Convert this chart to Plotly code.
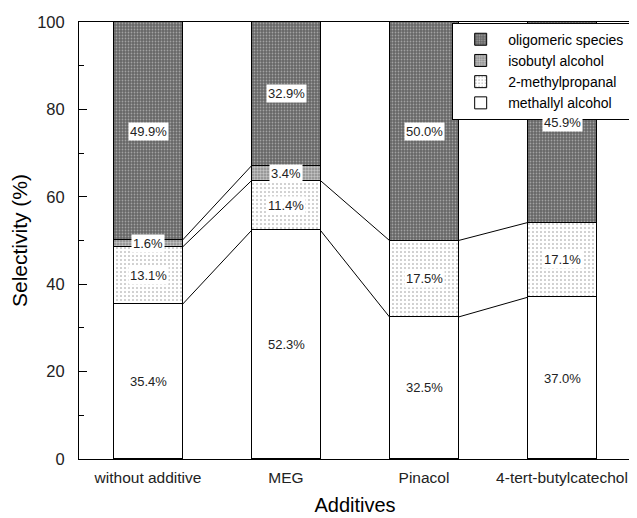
import plotly.graph_objects as go

categories = ["without additive", "MEG", "Pinacol", "4-tert-butylcatechol"]
methallyl = [35.4, 52.3, 32.5, 37.0]
methylpropanal = [13.1, 11.4, 17.5, 17.1]
isobutyl = [1.6, 3.4, 0.0, 0.0]
oligomeric = [49.9, 32.9, 50.0, 45.9]
y_ticks = [0, 20, 40, 60, 80, 100]

series = [
    ("methallyl alcohol", methallyl, dict(shape="", bgcolor="white")),
    ("2-methylpropanal", methylpropanal, dict(shape=".", fgcolor="#222222", bgcolor="white", size=4, solidity=0.12)),
    ("isobutyl alcohol", isobutyl, dict(shape=".", fgcolor="white", bgcolor="#8a8a8a", size=3, solidity=0.5)),
    ("oligomeric species", oligomeric, dict(shape=".", fgcolor="#dddddd", bgcolor="#666666", size=3, solidity=0.28)),
]

xs = list(range(len(categories)))
bar_w = 0.5
fig = go.Figure()

for name, vals, pat in series:
    fig.add_trace(go.Bar(
        x=xs, y=vals, name=name, width=bar_w,
        marker=dict(color="white", pattern=pat, line=dict(color="black", width=1)),
    ))

# connecting lines between adjacent bars at cumulative boundaries
cum = []
run = [0.0] * len(xs)
for name, vals, pat in series[:-1]:
    run = [r + v for r, v in zip(run, vals)]
    cum.append((list(run), vals))

for level, (tops, vals) in enumerate(cum):
    for i in range(len(xs) - 1):
        if level == 2 and (vals[i] == 0 or vals[i + 1] == 0):
            continue
        fig.add_trace(go.Scatter(
            x=[xs[i] + bar_w / 2, xs[i + 1] - bar_w / 2],
            y=[tops[i], tops[i + 1]],
            mode="lines", line=dict(color="black", width=1),
            showlegend=False, hoverinfo="skip",
        ))

# labels
base = [0.0] * len(xs)
for name, vals, pat in series:
    for i, v in enumerate(vals):
        if v > 0:
            fig.add_annotation(
                x=xs[i], y=base[i] + v / 2, text=f"{v:.1f}%", showarrow=False,
                bgcolor="white", borderpad=1,
                font=dict(family="Liberation Sans, Arial", size=13, color="#222222"),
            )
        base[i] += v

fig.update_layout(
    width=629, height=510,
    margin=dict(l=71, r=6, t=14, b=59),
    barmode="stack",
    bargap=0,
    plot_bgcolor="white", paper_bgcolor="white",
    font=dict(family="Liberation Sans, Arial", size=14, color="black"),
    showlegend=True,
    legend=dict(
        x=0.9985, y=0.9985, xanchor="right", yanchor="top",
        bgcolor="white", bordercolor="black", borderwidth=1,
        font=dict(size=14, color="black"),
        tracegroupgap=0, itemwidth=45,
    ),
    xaxis=dict(
        range=[-0.5, 3.5], tickvals=xs, ticktext=categories,
        showline=True, linecolor="black", linewidth=1, mirror=True,
        ticks="", showgrid=False, zeroline=False, automargin=False,
        ticklabelstandoff=4,
        title=dict(text="Additives", font=dict(size=20), standoff=13),
        tickfont=dict(size=15.5, color="#222222"),
    ),
    yaxis=dict(
        range=[0, 100], tickvals=y_ticks,
        showline=True, linecolor="black", linewidth=1, mirror=True,
        ticks="inside", ticklen=8, tickcolor="black",
        minor=dict(ticks="inside", ticklen=5, dtick=10, tickcolor="black"),
        showgrid=False, zeroline=False, automargin=False,
        ticklabelstandoff=10,
        title=dict(text="Selectivity (%)", font=dict(size=21), standoff=8),
        tickfont=dict(size=16.5, color="#222222"),
    ),
)

fig.write_html("out.html")
